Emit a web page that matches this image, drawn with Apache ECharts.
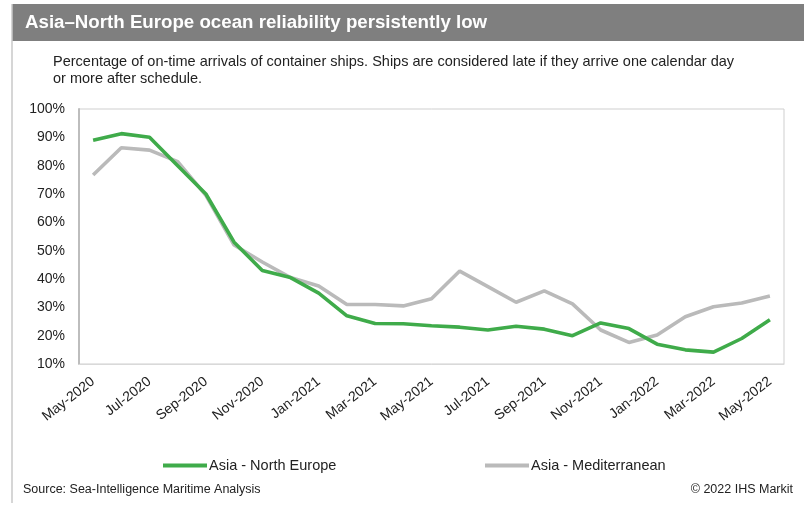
<!DOCTYPE html>
<html><head><meta charset="utf-8">
<script src="https://cdn.jsdelivr.net/npm/echarts@6/dist/echarts.min.js"></script>
<style>html,body{margin:0;padding:0;background:#fff}#c{width:804px;height:506px}</style>
</head><body><div id="c"></div>
<script>
const months = ['May-2020','Jun-2020','Jul-2020','Aug-2020','Sep-2020','Oct-2020','Nov-2020','Dec-2020',
  'Jan-2021','Feb-2021','Mar-2021','Apr-2021','May-2021','Jun-2021','Jul-2021','Aug-2021','Sep-2021','Oct-2021','Nov-2021','Dec-2021',
  'Jan-2022','Feb-2022','Mar-2022','Apr-2022','May-2022'];
const northEurope = [89, 91.3, 90, 80, 70, 53, 43, 40.5, 35, 27, 24.3, 24.2, 23.5, 23, 22, 23.3, 22.3, 20, 24.5, 22.5, 17, 15, 14.2, 19, 25.6];
const mediterranean = [76.7, 86.3, 85.5, 81.4, 69.5, 52, 46, 40.5, 37.5, 31, 31, 30.5, 33, 42.8, 37.3, 31.8, 35.8, 31.2, 22, 17.6, 20.2, 26.7, 30.2, 31.5, 34];
const yTicks = [10, 20, 30, 40, 50, 60, 70, 80, 90, 100];

const chart = echarts.init(document.getElementById('c'));
const font = '"Liberation Sans", Arial, sans-serif';
chart.setOption({
  animation: false,
  textStyle: {fontFamily: font},
  graphic: [
    {type: 'rect', shape: {x: 12, y: 4, width: 792, height: 37}, style: {fill: '#7f7f7f'}},
    {type: 'line', shape: {x1: 12, y1: 4, x2: 12, y2: 503}, style: {stroke: '#c8c8c8', lineWidth: 1.5}},
    {type: 'text', x: 25, y: 23, style: {text: 'Asia\u2013North Europe ocean reliability persistently low', fill: '#fff', font: 'bold 18.7px ' + font, textVerticalAlign: 'middle'}},
    {type: 'text', x: 53, y: 54, style: {text: 'Percentage of on-time arrivals of container ships. Ships are considered late if they arrive one calendar day\nor more after schedule.', fill: '#222', font: '14.5px ' + font, lineHeight: 16.5}},
    {type: 'text', x: 23, y: 490, style: {text: 'Source: Sea-Intelligence Maritime Analysis', fill: '#222', font: '12.5px ' + font, textVerticalAlign: 'middle'}},
    {type: 'text', x: 793, y: 490, style: {text: '\u00a9 2022 IHS Markit', fill: '#222', font: '12.5px ' + font, textAlign: 'right', textVerticalAlign: 'middle'}}
  ],
  legend: [
    {top: 453, left: 158, itemWidth: 44, itemHeight: 4, icon: 'rect',
     textStyle: {fontSize: 14.5, color: '#222', padding: [0,0,0,-3]},
     data: ['Asia - North Europe']},
    {top: 453, left: 480, itemWidth: 44, itemHeight: 4, icon: 'rect',
     textStyle: {fontSize: 14.5, color: '#222', padding: [0,0,0,-3]},
     data: ['Asia - Mediterranean']}
  ],
  grid: {left: 79, right: 20, top: 109, bottom: 142, show: true, borderColor: '#cfcfcf', borderWidth: 1},
  xAxis: {
    type: 'category', data: months, boundaryGap: true,
    axisLine: {lineStyle: {color: '#d9d9d9', width: 1}},
    axisTick: {interval: 1, length: 4, lineStyle: {color: '#d9d9d9'}},
    axisLabel: {interval: 1, rotate: 38, fontSize: 14, color: '#222', margin: 16}
  },
  yAxis: {
    type: 'value', min: 10, max: 100, interval: 10,
    axisLine: {show: true, lineStyle: {color: '#bdbdbd', width: 2}},
    axisTick: {show: false},
    splitLine: {show: false},
    axisLabel: {fontSize: 14, color: '#222', margin: 14, formatter: v => yTicks.includes(v) ? v + '%' : ''}
  },
  series: [
    {name: 'Asia - North Europe', type: 'line', data: northEurope, symbol: 'none', z: 3,
     lineStyle: {color: '#3fab4a', width: 3.6}, itemStyle: {color: '#3fab4a'}},
    {name: 'Asia - Mediterranean', type: 'line', data: mediterranean, symbol: 'none', z: 2,
     lineStyle: {color: '#bababa', width: 3.6}, itemStyle: {color: '#bababa'}}
  ]
});
</script></body></html>
